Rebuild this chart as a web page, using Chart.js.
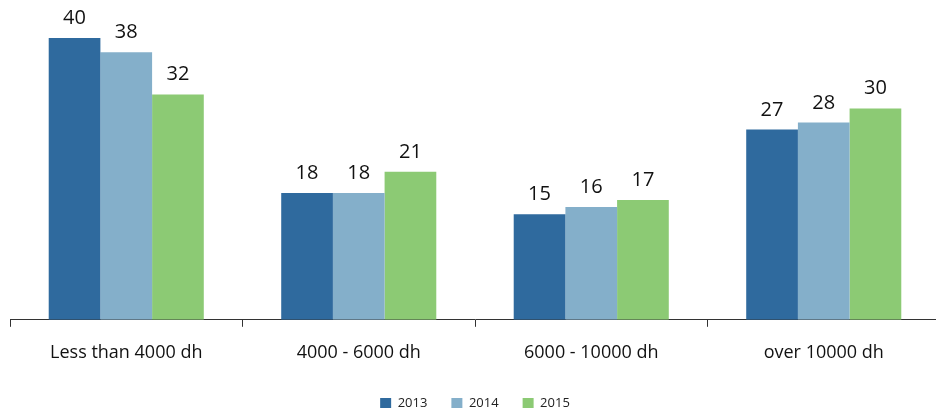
<!DOCTYPE html>
<html>
<head>
<meta charset="utf-8">
<script src="https://cdn.jsdelivr.net/npm/chart.js@4"></script>
<style>
  html, body { margin: 0; background: #fff; overflow: hidden; }
  #wrap { width: 940px; height: 408px; }
</style>
</head>
<body>
<div id="wrap"><canvas id="incomeChart"></canvas></div>
<script>
// values
const categories = ['Less than 4000 dh', '4000 - 6000 dh', '6000 - 10000 dh', 'over 10000 dh']
const years = ['2013', '2014', '2015']
const values2013 = [40, 18, 15, 27]
const values2014 = [38, 18, 16, 28]
const values2015 = [32, 21, 17, 30]
const barColors = ['#2f6a9e', '#84afca', '#8cca74']

const FONT = "'Open Sans', sans-serif"

// draws the number above every bar
const barValues = {
    id: 'barValues',
    afterDatasetsDraw(chart) {
        const ctx = chart.ctx
        ctx.save()
        ctx.font = '20px ' + FONT
        ctx.fillStyle = '#111'
        ctx.textAlign = 'center'
        ctx.textBaseline = 'alphabetic'
        chart.data.datasets.forEach(function(ds, i) {
            const meta = chart.getDatasetMeta(i)
            meta.data.forEach(function(bar, j) {
                ctx.fillText(ds.data[j], bar.x, bar.y - 14)
            })
        })
        ctx.restore()
    }
}

const allSeries = [values2013, values2014, values2015]
let datasets = []
for (let i = 0; i < years.length; i++) {
    datasets.push({
        label: years[i],
        data: allSeries[i],
        backgroundColor: barColors[i],
        borderWidth: 0
    })
}

new Chart(document.getElementById('incomeChart'), {
    type: 'bar',
    data: { labels: categories, datasets: datasets },
    options: {
        responsive: true,
        maintainAspectRatio: false,
        animation: false,
        layout: { padding: { left: 10, right: 0, top: 0, bottom: -12 } },
        datasets: { bar: { barPercentage: 1, categoryPercentage: 0.667 } },
        scales: {
            x: {
                grid: { display: true, offset: true, drawOnChartArea: false, drawTicks: true, tickLength: 7, color: '#333', lineWidth: 1 },
                border: { display: true, color: '#333', width: 1 },
                ticks: { color: '#111', font: { family: FONT, size: 18, lineHeight: 0.9 }, padding: 18 },
                afterFit: function(scale) { scale.height -= 6 }
            },
            y: {
                display: false,
                min: 0,
                max: 45.4
            }
        },
        plugins: {
            legend: {
                position: 'bottom',
                labels: {
                    boxWidth: 11,
                    boxHeight: 11,
                    padding: 24,
                    color: '#222',
                    font: { family: FONT, size: 13 }
                }
            },
            tooltip: { enabled: false }
        }
    },
    plugins: [barValues]
})
</script>
</body>
</html>
